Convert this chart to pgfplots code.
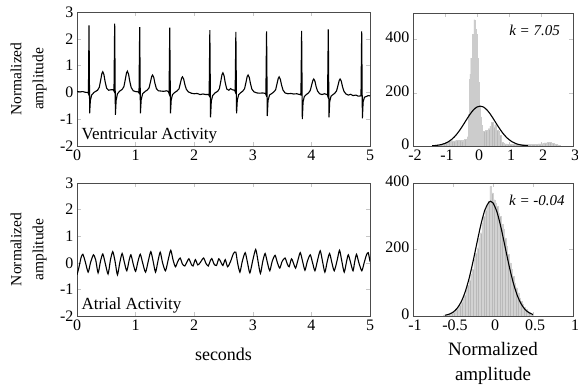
\documentclass[border=0pt]{standalone}
\usepackage{pgfplots}
\pgfplotsset{compat=1.18}
\usepackage{fontspec}
\setmainfont{Liberation Serif}

\pgfplotsset{
  myax/.style={
    scale only axis,
    axis line style={gray!60!black, line width=0.8pt},
    tick style={gray!45, line width=0.5pt},
    tick align=inside,
    major tick length=4pt,
    /pgf/number format/assume math mode=true,
    tick label style={font=\fontsize{16}{16}\selectfont},
    label style={font=\fontsize{18}{22}\selectfont},
    clip=true,
  },
}

\begin{document}
\begin{tikzpicture}
\useasboundingbox (0,0) rectangle (578pt,388pt);

% ---------------- Top left: ventricular activity
\begin{axis}[myax, at={(77pt,242pt)}, anchor=south west,
  width=293pt, height=134pt,
  xmin=0, xmax=5, ymin=-2, ymax=3,
  xtick={0,1,2,3,4,5}, ytick={-2,-1,0,1,2,3},
  ylabel={Normalized\\amplitude},
  ylabel style={at={(axis description cs:-0.165,0.5)}, anchor=center, align=center, font=\fontsize{15.5}{22}\selectfont},
]
\addplot[black, line width=1.1pt] table {
0.000 0.03
0.050 0.02
0.100 0.03
0.150 0.00
0.185 0.00
0.195 -0.05
0.205 2.50
0.216 -0.78
0.228 -0.30
0.250 -0.10
0.290 0.00
0.350 0.08
0.380 0.19
0.405 0.47
0.425 0.71
0.440 0.77
0.460 0.66
0.480 0.40
0.505 0.16
0.540 0.08
0.580 0.10
0.620 0.10
0.631 0.05
0.643 2.57
0.655 -0.84
0.668 -0.30
0.690 -0.05
0.730 0.05
0.770 0.11
0.800 0.21
0.825 0.49
0.845 0.73
0.860 0.79
0.880 0.68
0.900 0.42
0.925 0.18
0.960 0.06
1.000 0.03
1.045 0.02
1.058 -0.02
1.070 2.44
1.082 -0.78
1.095 -0.28
1.120 -0.05
1.160 0.03
1.200 0.09
1.230 0.17
1.255 0.40
1.275 0.60
1.290 0.65
1.310 0.56
1.330 0.34
1.355 0.14
1.390 0.06
1.430 0.05
1.480 0.04
1.530 0.06
1.560 0.03
1.571 -0.04
1.583 2.42
1.595 -0.78
1.608 -0.28
1.630 -0.08
1.670 0.00
1.710 0.06
1.740 0.13
1.765 0.35
1.785 0.53
1.800 0.58
1.820 0.50
1.840 0.30
1.865 0.12
1.900 0.02
1.950 -0.03
2.000 -0.05
2.050 -0.04
2.100 -0.08
2.150 -0.06
2.200 -0.08
2.245 -0.08
2.255 -0.12
2.267 2.32
2.279 -0.93
2.292 -0.32
2.315 -0.12
2.355 -0.02
2.400 0.04
2.430 0.14
2.455 0.43
2.475 0.67
2.490 0.73
2.510 0.62
2.530 0.36
2.555 0.13
2.590 0.08
2.620 0.14
2.650 0.10
2.690 0.08
2.699 0.03
2.711 2.26
2.723 -0.78
2.736 -0.28
2.760 -0.08
2.800 0.00
2.830 0.05
2.860 0.14
2.885 0.39
2.905 0.60
2.920 0.65
2.940 0.56
2.960 0.33
2.985 0.12
3.020 0.02
3.070 -0.02
3.120 -0.03
3.170 -0.02
3.215 -0.04
3.223 -0.08
3.235 2.28
3.247 -0.88
3.260 -0.30
3.285 -0.10
3.325 -0.04
3.360 0.02
3.390 0.10
3.415 0.34
3.435 0.53
3.450 0.58
3.470 0.49
3.490 0.28
3.515 0.09
3.550 -0.02
3.600 -0.05
3.650 -0.04
3.700 -0.06
3.750 -0.05
3.800 -0.08
3.820 -0.05
3.821 -0.12
3.833 2.30
3.845 -1.00
3.858 -0.35
3.880 -0.15
3.920 -0.07
3.950 -0.02
3.980 0.07
4.005 0.28
4.025 0.45
4.040 0.50
4.060 0.42
4.080 0.22
4.105 0.05
4.140 -0.05
4.180 -0.08
4.220 -0.05
4.270 -0.08
4.276 -0.12
4.288 2.35
4.300 -0.93
4.313 -0.33
4.335 -0.14
4.375 -0.07
4.400 -0.03
4.430 0.06
4.455 0.27
4.475 0.45
4.490 0.50
4.510 0.42
4.530 0.22
4.555 0.04
4.590 -0.06
4.630 -0.10
4.670 -0.07
4.710 -0.12
4.760 -0.10
4.800 -0.14
4.846 -0.13
4.858 2.28
4.870 -0.97
4.883 -0.35
4.905 -0.18
4.940 -0.15
4.970 -0.12
5.000 -0.13
};
\node[anchor=south west, inner sep=1pt, font=\fontsize{17}{17}\selectfont] at (axis description cs:0.012,0.015) {Ventricular Activity};
\end{axis}

% ---------------- Top right: histogram
\begin{axis}[myax, at={(413pt,242pt)}, anchor=south west,
  width=160pt, height=133pt,
  xmin=-2, xmax=3, ymin=0, ymax=500,
  xtick={-2,-1,0,1,2,3}, ytick={0,200,400},
  yticklabel style={yshift=2pt},
  xticklabel style={xshift=2pt},
]
\addplot[ybar interval, fill=gray!55, draw=gray!40, line width=0.2pt] table {
-1.35 3
-1.30 4
-1.25 5
-1.20 5
-1.15 6
-1.10 8
-1.05 10
-1.00 12
-0.95 15
-0.90 17
-0.85 18
-0.80 20
-0.75 18
-0.70 20
-0.65 22
-0.60 20
-0.55 22
-0.50 20
-0.45 22
-0.40 25
-0.35 22
-0.300 35
-0.275 120
-0.250 250
-0.225 270
-0.200 330
-0.175 290
-0.150 420
-0.125 400
-0.100 475
-0.075 460
-0.050 440
-0.025 420
0.000 330
0.025 240
0.050 170
0.075 150
0.100 110
0.125 80
0.150 55
0.175 50
0.20 55
0.25 60
0.30 55
0.35 65
0.40 75
0.45 88
0.50 70
0.55 80
0.60 60
0.65 55
0.70 40
0.75 15
0.80 10
0.85 8
0.90 8
0.95 7
1.00 7
1.10 6
1.20 6
1.30 7
1.40 6
1.50 7
1.60 6
1.70 7
1.80 7
1.90 8
2.00 8
2.05 10
2.10 12
2.15 12
2.20 15
2.25 14
2.30 12
2.35 10
2.40 8
2.45 6
2.50 4
2.55 3
2.60 0
};
\addplot[black, line width=1.1pt, smooth] table {
-1.4 0.9
-1.3 1.8
-1.2 3.3
-1.1 5.8
-1.0 9.7
-0.9 15.6
-0.8 24.0
-0.7 35.2
-0.6 49.5
-0.5 66.4
-0.4 85.2
-0.3 104.4
-0.2 122.4
-0.1 137.0
0.0 146.6
0.1 150.0
0.2 146.6
0.3 137.0
0.4 122.4
0.5 104.4
0.6 85.2
0.7 66.4
0.8 49.5
0.9 35.2
1.0 24.0
1.1 15.6
1.2 9.7
1.3 5.8
1.4 3.3
1.5 1.8
1.6 0.9
};
\node[anchor=east, font=\fontsize{15}{15}\selectfont\itshape] at (axis description cs:0.94,0.87) {k = 7.05};
\end{axis}

% ---------------- Bottom left: atrial activity
\begin{axis}[myax, at={(77pt,72pt)}, anchor=south west,
  width=293pt, height=133pt,
  xmin=0, xmax=5, ymin=-2, ymax=3,
  xtick={0,1,2,3,4,5}, ytick={-2,-1,0,1,2,3},
  ylabel={Normalized\\amplitude},
  ylabel style={at={(axis description cs:-0.165,0.5)}, anchor=center, align=center, font=\fontsize{15.5}{22}\selectfont},
  xlabel={seconds},
  xlabel style={at={(axis description cs:0.5,-0.29)}, anchor=center},
]
\addplot[black, line width=1.1pt, smooth, tension=0.4] table {
0.00 -0.45
0.03 -0.20
0.07 0.20
0.10 0.32
0.14 0.05
0.19 -0.35
0.23 0.00
0.28 0.30
0.32 0.10
0.36 -0.38
0.40 0.05
0.44 0.33
0.48 0.00
0.53 -0.42
0.57 0.10
0.61 0.42
0.65 0.05
0.69 -0.45
0.73 0.00
0.77 0.35
0.81 0.00
0.85 -0.30
0.89 0.10
0.92 0.30
0.96 -0.05
1.00 -0.32
1.04 0.05
1.08 0.32
1.12 0.00
1.17 -0.35
1.22 0.10
1.26 0.42
1.30 0.05
1.34 -0.35
1.38 0.05
1.42 0.40
1.46 0.00
1.51 -0.30
1.56 0.15
1.60 0.47
1.64 0.10
1.68 -0.15
1.72 0.05
1.76 0.18
1.80 -0.05
1.84 -0.12
1.88 0.05
1.91 0.15
1.95 -0.05
1.98 -0.12
2.02 0.12
2.06 -0.08
2.10 0.00
2.16 0.18
2.20 -0.02
2.24 -0.12
2.27 0.05
2.30 0.16
2.34 -0.05
2.38 -0.10
2.42 0.15
2.46 0.00
2.49 -0.10
2.53 0.12
2.57 -0.15
2.62 0.05
2.67 0.35
2.71 0.40
2.74 0.00
2.78 -0.35
2.82 0.05
2.87 0.38
2.91 0.00
2.95 -0.38
3.00 0.10
3.05 0.50
3.09 0.05
3.13 -0.40
3.17 0.05
3.21 0.35
3.25 0.00
3.29 -0.30
3.33 0.05
3.38 0.28
3.42 0.00
3.46 -0.20
3.50 0.05
3.55 0.18
3.59 -0.05
3.62 -0.15
3.66 0.15
3.70 -0.05
3.73 -0.20
3.77 0.10
3.81 0.38
3.85 0.05
3.89 -0.28
3.93 0.05
3.98 0.30
4.02 0.00
4.06 -0.30
4.10 0.05
4.15 0.45
4.19 0.05
4.23 -0.35
4.27 0.05
4.31 0.35
4.35 0.00
4.39 -0.30
4.44 0.10
4.48 0.47
4.52 0.05
4.56 -0.35
4.60 0.05
4.63 0.30
4.67 0.00
4.71 -0.30
4.74 0.05
4.77 0.32
4.81 0.00
4.86 -0.30
4.90 0.00
4.94 0.30
4.97 0.38
5.00 0.05
};
\node[anchor=south west, inner sep=1pt, font=\fontsize{17}{17}\selectfont] at (axis description cs:0.012,0.015) {Atrial Activity};
\end{axis}

% ---------------- Bottom right: histogram
\begin{axis}[myax, at={(413pt,72pt)}, anchor=south west,
  width=160pt, height=133pt,
  xmin=-1, xmax=1, ymin=0, ymax=400,
  xtick={-1,-0.5,0,0.5,1}, ytick={0,200,400},
  yticklabel style={yshift=2pt},
  xticklabel style={xshift=2pt},
  xlabel={Normalized\\amplitude},
  xlabel style={at={(axis description cs:0.5,-0.355)}, anchor=center, align=center, font=\fontsize{19}{25}\selectfont},
]
\addplot[ybar interval, fill=gray!55, draw=gray!35, line width=0.2pt] table {
-0.62 2
-0.60 3
-0.58 4
-0.56 5
-0.54 7
-0.52 9
-0.50 12
-0.48 16
-0.46 20
-0.44 26
-0.42 33
-0.40 42
-0.38 52
-0.36 62
-0.34 78
-0.32 92
-0.30 108
-0.28 126
-0.26 140
-0.24 170
-0.22 190
-0.20 205
-0.18 235
-0.16 250
-0.14 280
-0.12 300
-0.10 318
-0.08 330
-0.06 345
-0.04 390
-0.02 370
0.00 350
0.02 340
0.04 330
0.06 310
0.08 300
0.10 275
0.12 260
0.14 235
0.16 210
0.18 185
0.20 160
0.22 140
0.24 120
0.26 100
0.28 85
0.30 70
0.32 55
0.34 44
0.36 35
0.38 27
0.40 20
0.42 15
0.44 11
0.46 8
0.48 5
0.50 0
};
\addplot[black, line width=1.1pt, smooth] table {
-0.60 2.3
-0.55 5.3
-0.50 11.4
-0.45 22.7
-0.40 41.7
-0.35 71.0
-0.30 112.0
-0.25 163.5
-0.20 220.9
-0.15 276.3
-0.10 319.9
-0.05 342.9
-0.03 345.0
0.00 340.2
0.05 312.5
0.10 265.8
0.15 209.3
0.20 152.5
0.25 102.9
0.30 64.2
0.35 37.2
0.40 19.9
0.45 9.9
0.50 4.5
};
\node[anchor=east, font=\fontsize{15}{15}\selectfont\itshape] at (axis description cs:0.97,0.87) {k = -0.04};
\end{axis}
\end{tikzpicture}
\end{document}
